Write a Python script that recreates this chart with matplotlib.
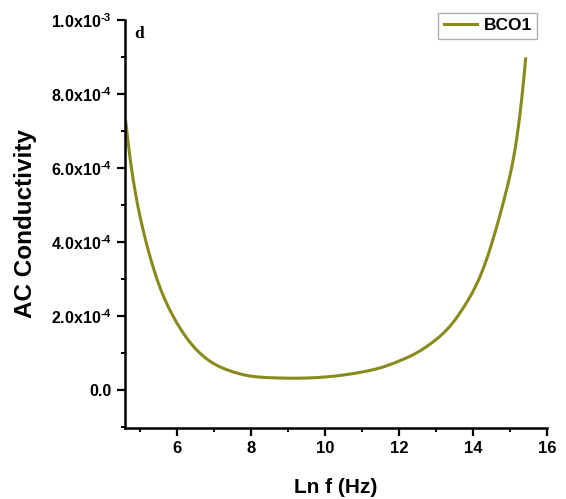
import numpy as np
import matplotlib
matplotlib.use("Agg")
import matplotlib.pyplot as plt
from matplotlib.ticker import MultipleLocator, FuncFormatter

plt.rcParams['font.family'] = ['Liberation Sans', 'DejaVu Sans']
plt.rcParams['font.weight'] = 'bold'
plt.rcParams['mathtext.fontset'] = 'custom'
plt.rcParams['mathtext.rm'] = 'Liberation Sans:bold'
plt.rcParams['mathtext.default'] = 'rm'

# ln f (Hz) vs AC conductivity for BCO1
ln_f = [4.62, 4.73, 4.95, 5.22, 5.54, 5.95, 6.43, 6.97, 7.62, 7.97,
        8.6, 9.32, 10.1, 10.86, 11.5, 12.0, 12.38, 12.76, 13.11, 13.38,
        13.73, 14.19, 14.54, 14.86, 15.14, 15.32, 15.43]
sigma_ac = [7.24e-4, 6.3e-4, 4.95e-4, 3.8e-4, 2.78e-4, 1.9e-4, 1.2e-4,
            7.3e-5, 4.6e-5, 3.8e-5, 3.3e-5, 3.2e-5, 3.6e-5, 4.6e-5, 6.0e-5,
            7.8e-5, 9.5e-5, 1.18e-4, 1.45e-4, 1.72e-4, 2.2e-4, 3.05e-4,
            4.05e-4, 5.2e-4, 6.49e-4, 7.84e-4, 8.95e-4]


def natural_spline(x, y, xs):
    n = len(x)
    h = np.diff(x)
    A = np.zeros((n, n))
    r = np.zeros(n)
    A[0, 0] = A[-1, -1] = 1
    for i in range(1, n - 1):
        A[i, i - 1] = h[i - 1]
        A[i, i] = 2 * (h[i - 1] + h[i])
        A[i, i + 1] = h[i]
        r[i] = 6 * ((y[i + 1] - y[i]) / h[i] - (y[i] - y[i - 1]) / h[i - 1])
    M = np.linalg.solve(A, r)
    k = np.clip(np.searchsorted(x, xs) - 1, 0, n - 2)
    a = x[k + 1] - xs
    b = xs - x[k]
    hk = h[k]
    return (M[k] * a**3 / (6 * hk) + M[k + 1] * b**3 / (6 * hk)
            + (y[k] / hk - M[k] * hk / 6) * a
            + (y[k + 1] / hk - M[k + 1] * hk / 6) * b)


# smooth curve through the points, interpolated on log scale
x = np.array(ln_f)
y = np.array(sigma_ac)
xs = np.linspace(x[0], x[-1], 500)
ys = np.exp(natural_spline(x, np.log(y), xs))

fig = plt.figure(figsize=(5.66, 4.99), dpi=100)
ax = fig.add_axes([0.221, 0.142, 0.745, 0.818])
ax.plot(xs, ys, color='#8a8a1c', lw=2.2, label='BCO1')

ax.set_xlim(4.6, 16)
ax.set_ylim(-1.03e-4, 1.0e-3)
ax.spines['top'].set_visible(False)
ax.spines['right'].set_visible(False)
for s in ['left', 'bottom']:
    ax.spines[s].set_linewidth(1.8)

ax.xaxis.set_major_locator(MultipleLocator(2))
ax.xaxis.set_minor_locator(MultipleLocator(1))
ax.yaxis.set_major_locator(MultipleLocator(2e-4))
ax.yaxis.set_minor_locator(MultipleLocator(1e-4))
ax.tick_params(which='major', length=5.5, width=1.6)
ax.tick_params(which='minor', length=3, width=1.4)
ax.tick_params(axis='x', labelsize=12)
ax.tick_params(axis='y', labelsize=11.5, pad=4)


def sci(v, pos):
    if abs(v) < 1e-12:
        return '0.0'
    e = int(np.floor(np.log10(abs(v))))
    return '%.1fx10$^{\u2010%d}$' % (v / 10**e, -e)


ax.yaxis.set_major_formatter(FuncFormatter(sci))
for lab in ax.get_xticklabels() + ax.get_yticklabels():
    lab.set_fontweight('bold')

ax.set_xlabel('Ln f (Hz)', fontsize=15, fontweight='bold', va='top')
ax.xaxis.set_label_coords(0.5, -0.122)
ax.set_ylabel('AC Conductivity', fontsize=17.5, fontweight='bold')
ax.yaxis.set_label_coords(-0.21, 0.5)
ax.text(0.022, 0.985, 'd', transform=ax.transAxes, fontsize=12.5,
        fontweight='bold', family='Liberation Serif', va='top')

leg = ax.legend(loc='upper right', bbox_to_anchor=(537 / 566, 1 - 13 / 499),
                bbox_transform=fig.transFigure, borderaxespad=0,
                fontsize=12.5, frameon=True, fancybox=False,
                handlelength=1.9, borderpad=0.3, handletextpad=0.4)
leg.get_frame().set_edgecolor('#999999')
leg.get_frame().set_linewidth(1.0)
for t_ in leg.get_texts():
    t_.set_fontweight('bold')

fig.savefig('out.png', dpi=100)
